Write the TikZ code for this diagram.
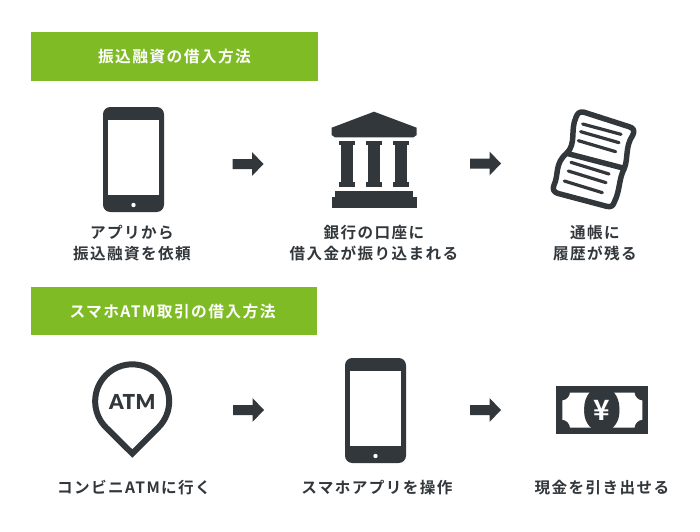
\documentclass[tikz,border=0pt]{standalone}
\usepackage{fontspec}
\setmainfont{Noto Sans CJK JP}[BoldFont={* Bold},LetterSpace=9]
\newfontfamily\atmfont{Lato Black}
\definecolor{ink}{HTML}{32373B}
\definecolor{leaf}{HTML}{7FBB25}
\tikzset{
  x=0.75pt,y=-0.75pt,
  bar/.style={fill=leaf,draw=none},
  head/.style={text=white,font=\fontsize{11.8pt}{14pt}\selectfont\bfseries,inner sep=0pt},
  lab/.style={text=ink,align=center,inner sep=0pt,font=\fontsize{11.7pt}{15.75pt}\selectfont\bfseries},
  solid ink/.style={fill=ink,draw=none},
  pic arrow/.pic={\fill[ink] (-15.5,-5) -- (4,-5) -- (4,-12) -- (15.5,0) -- (4,12) -- (4,5) -- (-15.5,5) -- cycle;},
  phone/.pic={
    \fill[ink,rounded corners=5.5] (-30.5,-52.5) rectangle (30.5,52.5);
    \fill[white] (-25.5,-39.5) rectangle (25.5,35.5);
    \fill[white] (0,45.5) circle (2.2);
  },
}
\begin{document}
\begin{tikzpicture}
\useasboundingbox (0,0) rectangle (700,532);
\fill[white] (0,0) rectangle (700,532);
% header bars
\fill[bar] (31,32) rectangle (318,81);
\node[head] (h1) at (174.5,57) {振込融資の借入方法};
\fill[bar] (31,287) rectangle (317,335);
\node[head] (h2) at (172.5,311.5) {スマホATM取引の借入方法};
% top row
\pic at (133.5,159.5) {phone};
\pic at (248,164) {pic arrow};
\pic at (485.5,163.5) {pic arrow};
% bank
\fill[solid ink] (374,111.7) -- (416.7,127.7) -- (416.7,135) -- (413.5,137.3) -- (334.9,137.3) -- (331.7,135) -- (331.7,127.7) -- cycle;
\foreach \c in {347,374,401}{
  \fill[ink] (\c-7.8,140.7) rectangle (\c+7.8,145);
  \fill[ink] (\c-6.2,144) rectangle (\c+6.2,183);
  \fill[ink] (\c-7.8,181.7) rectangle (\c+7.8,186.7);
}
\fill[ink] (335,191) rectangle (413.3,198);
\fill[ink] (331.7,197.3) rectangle (416.7,208);
% receipt
\begin{scope}[shift={(545,100)},x=0.25pt,y=-0.25pt,draw=ink,line cap=round,line join=round]
  \draw[line width=4.1pt] (118,37) -- (252,80) .. controls (266,84) and (270,92) .. (263,106)
     .. controls (240,140) and (250,175) .. (238,205)
     .. controls (220,240) and (226,270) .. (208,306) .. controls (204,318) and (198,322) .. (185,319)
     -- (38,280) .. controls (26,276) and (22,268) .. (27,255)
     .. controls (42,225) and (28,190) .. (65,160)
     -- (238,205);
  \draw[line width=4.1pt] (118,37) .. controls (104,33) and (97,40) .. (93,52)
     .. controls (75,90) and (95,130) .. (65,160);
  \foreach \a/\b/\c/\d in {113/72/228/103, 107/95/222/128, 100/122/212/155, 78/187/192/222, 70/213/183/248, 58/243/172/278}{
    \draw[line width=2.4pt] (\a,\b) -- (\c,\d);
  }
\end{scope}
% top labels
\node[lab] (t1) at (132,243) {アプリから\\振込融資を依頼};
\node[lab] (t2) at (374,243) {銀行の口座に\\借入金が振り込まれる};
\node[lab] (t3) at (595,243) {通帳に\\履歴が残る};
% bottom row
\draw[ink,line width=4.5pt,line join=miter,miter limit=10]
  (132.3,453.5) -- (106,427.5) arc[start angle=135,end angle=405,radius=37] -- cycle;
\node[text=ink,inner sep=0pt,font=\fontsize{15.5pt}{16pt}\selectfont\atmfont\addfontfeature{LetterSpace=2}] (atm) at (132.3,401.5) {ATM};
\pic at (248.5,410) {pic arrow};
\pic at (375.5,410.5) {phone};
\pic at (485.5,410) {pic arrow};
% money
\fill[ink] (556,386) rectangle (647.5,434);
\fill[white] (570,392.7) -- (634.5,392.7) .. controls (635,397) and (638,400) .. (642.3,400.5)
  -- (642.3,419.7) .. controls (638,420.2) and (635,423.2) .. (634.5,427.5)
  -- (570,427.5) .. controls (569.5,423.2) and (566.5,420.2) .. (562.3,419.7)
  -- (562.3,400.5) .. controls (566.5,400) and (569.5,397) .. (570,392.7) -- cycle;
\fill[ink] (601.8,408) ellipse (17.6 and 21.5);
\fill[ink] (601.8,412) ellipse (17.6 and 20);
\node[text=white,inner sep=0pt,font=\fontsize{21pt}{21pt}\selectfont\bfseries] (yen) at (601.8,410) {¥};
% bottom labels
\node[lab] (b1) at (134,487.5) {コンビニATMに行く};
\node[lab] (b2) at (377,487.5) {スマホアプリを操作};
\node[lab] (b3) at (602,488) {現金を引き出せる};
\end{tikzpicture}
\end{document}
